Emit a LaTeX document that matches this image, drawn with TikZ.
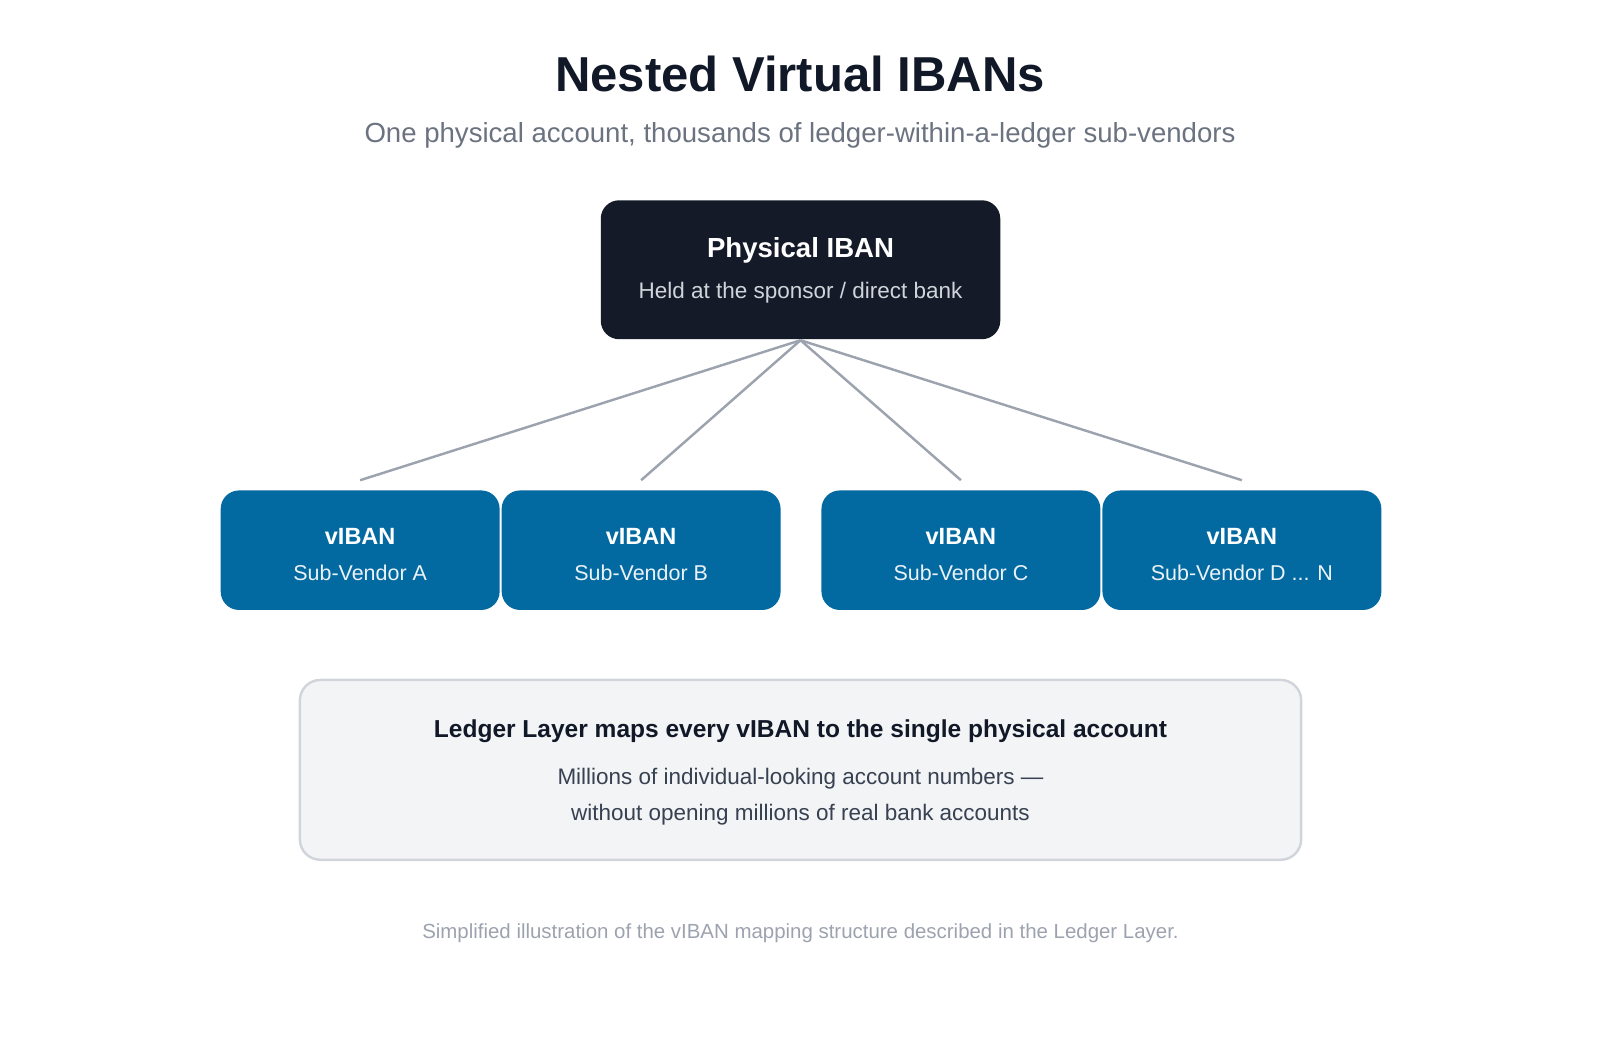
\documentclass[tikz,border=0pt]{standalone}
\usepackage{fontspec}
\setmainfont{Liberation Sans}
\definecolor{dark}{HTML}{141A28}
\definecolor{blue}{HTML}{0369A1}
\definecolor{line}{HTML}{9CA3AF}
\definecolor{ttl}{HTML}{111827}
\definecolor{sub}{HTML}{6B7280}
\definecolor{lfill}{HTML}{F3F4F6}
\definecolor{lbord}{HTML}{D1D5DB}
\definecolor{ltxt}{HTML}{374151}
\begin{document}
\begin{tikzpicture}[x=0.5pt,y=-0.5pt,
  vb/.style={fill=blue,rounded corners=9pt,minimum width=136.5pt,minimum height=58.5pt,inner sep=0pt,align=center,text=white},
  conn/.style={draw=line,line width=1.2pt}]
\useasboundingbox (0,0) rectangle (1566,1018);
\node[text=ttl,font=\bfseries\fontsize{24}{28}\selectfont] (title) at (783,72) {Nested Virtual IBANs};
\node[text=sub,font=\fontsize{13.5}{16}\selectfont] (subt) at (783,132) {One physical account, thousands of ledger-within-a-ledger sub-vendors};
\node[fill=dark,rounded corners=9pt,minimum width=195.5pt,minimum height=68pt,inner sep=0pt] (phys) at (783.5,264) {};
\node[text=white,font=\bfseries\fontsize{13.5}{16}\selectfont] (physT) at (783.5,245) {Physical IBAN};
\node[text=lbord,font=\fontsize{11}{13}\selectfont] (physS) at (783.5,286) {Held at the sponsor / direct bank};
\coordinate (top) at (783.5,333);
\foreach \n/\x/\l in {a/352.5/{A},b/627.5/{B},c/940.5/{C},d/1215.5/{D {.}{.}{.} N}}{
  \node[vb] (\n) at (\x,538.5) {};
  \node[text=white,font=\bfseries\fontsize{11.5}{14}\selectfont] (\n t) at (\x,525) {vIBAN};
  \node[text=white!92!blue,font=\fontsize{10.5}{13}\selectfont] (\n s) at (\x,561) {Sub-Vendor \l};
  \coordinate (\n e) at (\x,470);
  \draw[conn] (top) -- (\n e);
}
\node[fill=lfill,draw=lbord,line width=1.2pt,rounded corners=10pt,minimum width=490pt,minimum height=88pt,inner sep=0pt] (ledger) at (783.5,753.5) {};
\node[text=ttl,font=\bfseries\fontsize{12}{14}\selectfont] (l1) at (783.5,716) {Ledger Layer maps every vIBAN to the single physical account};
\node[text=ltxt,font=\fontsize{11}{13}\selectfont] (l2) at (783.5,762) {Millions of individual-looking account numbers —};
\node[text=ltxt,font=\fontsize{11}{13}\selectfont] (l3) at (783.5,797) {without opening millions of real bank accounts};
\node[text=line,font=\fontsize{10}{12}\selectfont] (foot) at (783.5,913) {Simplified illustration of the vIBAN mapping structure described in the Ledger Layer.};
\end{tikzpicture}
\end{document}
